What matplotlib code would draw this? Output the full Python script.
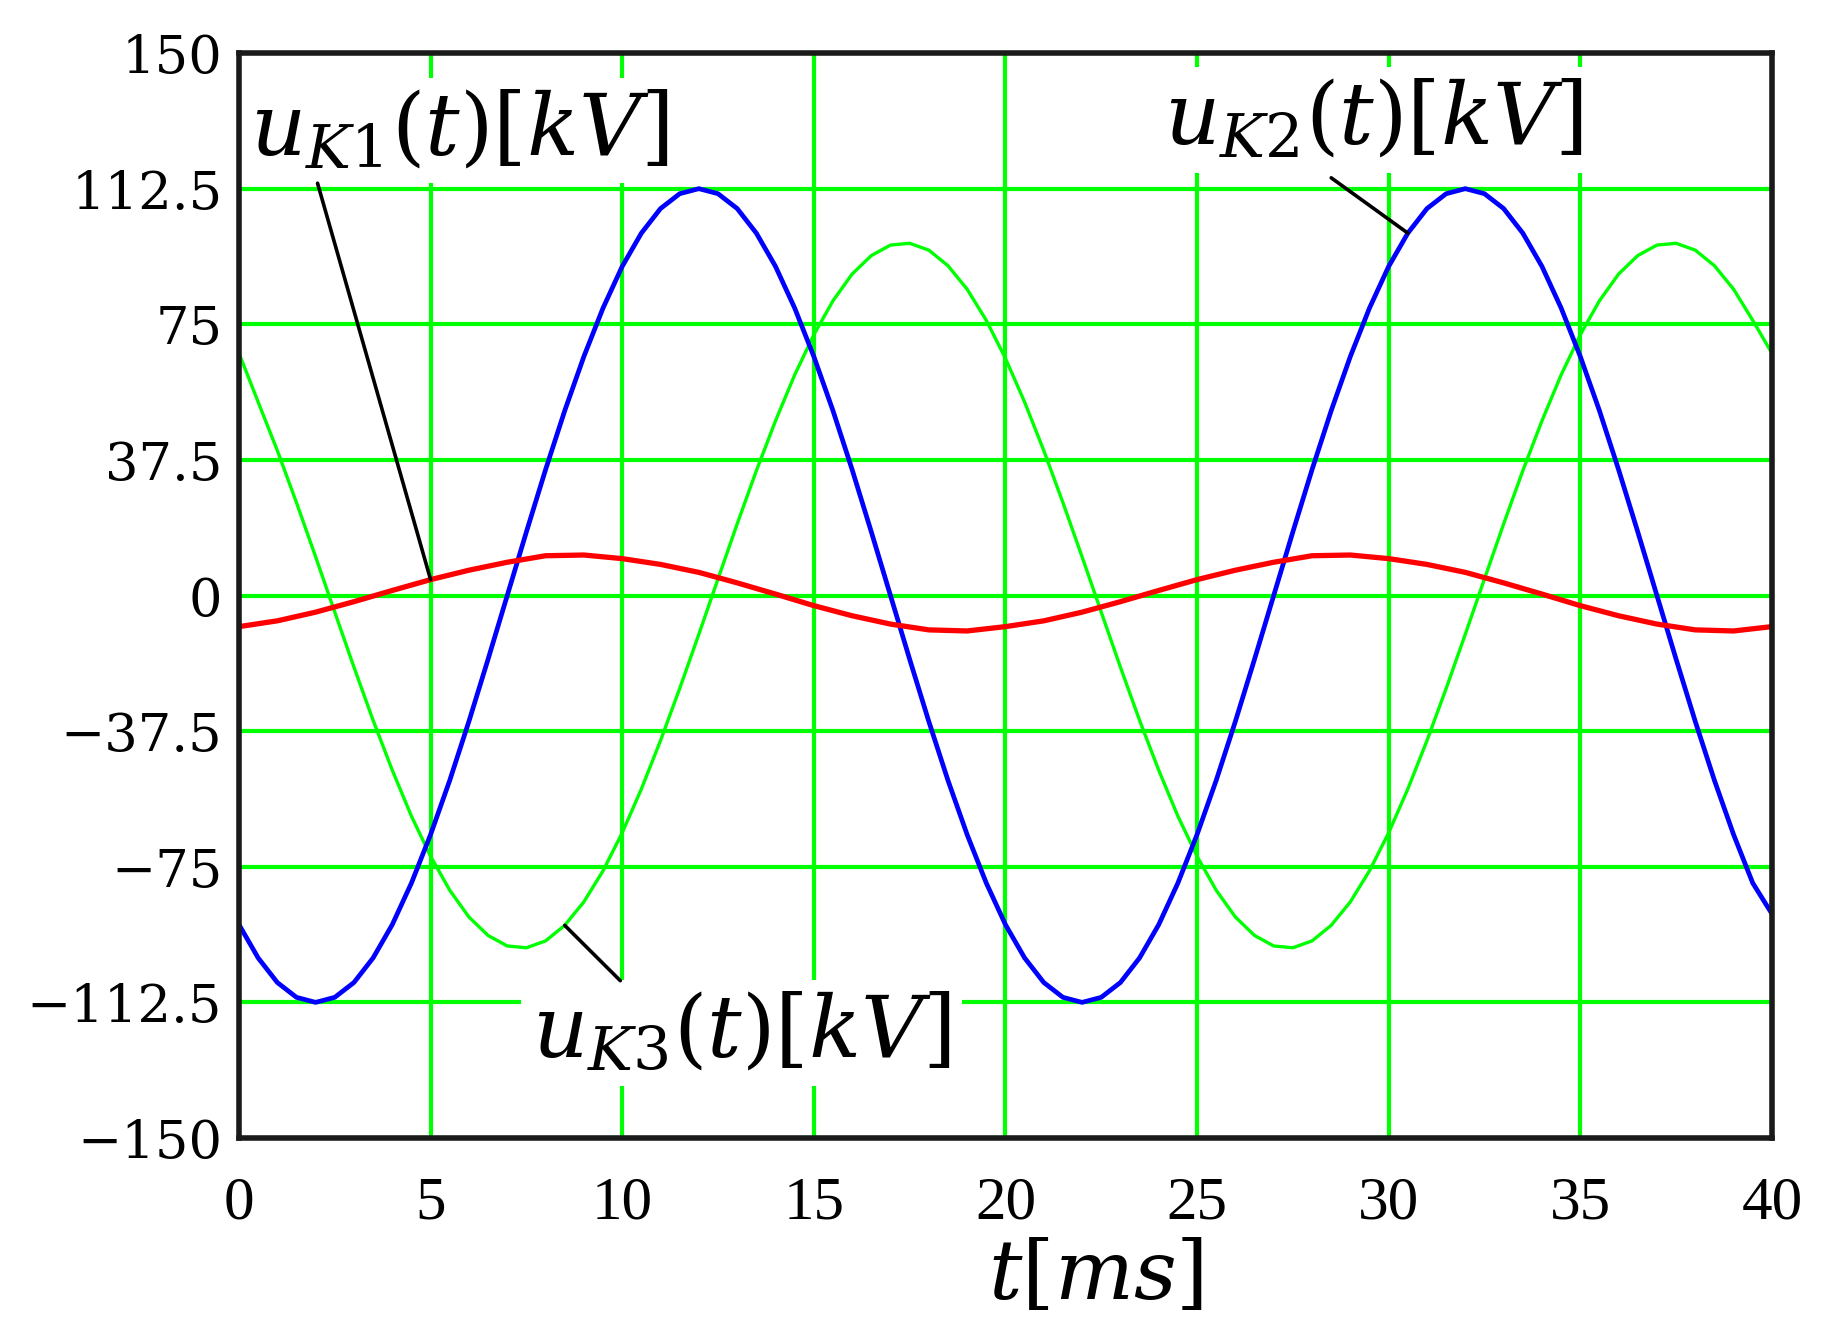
import matplotlib
matplotlib.use("Agg")

import matplotlib.pyplot as plt

plt.rcParams["mathtext.fontset"] = "dejavuserif"

# time axis, ms (0.5 ms step for uK2 / uK3, 1 ms step for uK1)
t_ms = [0.0, 0.5, 1.0, 1.5, 2.0, 2.5, 3.0, 3.5, 4.0, 4.5,
        5.0, 5.5, 6.0, 6.5, 7.0, 7.5, 8.0, 8.5, 9.0, 9.5,
        10.0, 10.5, 11.0, 11.5, 12.0, 12.5, 13.0, 13.5, 14.0, 14.5,
        15.0, 15.5, 16.0, 16.5, 17.0, 17.5, 18.0, 18.5, 19.0, 19.5,
        20.0, 20.5, 21.0, 21.5, 22.0, 22.5, 23.0, 23.5, 24.0, 24.5,
        25.0, 25.5, 26.0, 26.5, 27.0, 27.5, 28.0, 28.5, 29.0, 29.5,
        30.0, 30.5, 31.0, 31.5, 32.0, 32.5, 33.0, 33.5, 34.0, 34.5,
        35.0, 35.5, 36.0, 36.5, 37.0, 37.5, 38.0, 38.5, 39.0, 39.5,
        40.0]

t_red_ms = [0, 1, 2, 3, 4, 5, 6, 7, 8, 9, 10, 11, 12, 13, 14, 15, 16, 17, 18, 19,
            20, 21, 22, 23, 24, 25, 26, 27, 28, 29, 30, 31, 32, 33, 34, 35, 36, 37, 38, 39,
            40]

# uK1(t) [kV] - red
u_k1 = [-8.6, -7.0, -4.6, -1.7, 1.4, 4.4, 7.0, 9.2, 11.0, 11.2,
        10.2, 8.6, 6.4, 3.5, 0.4, -2.8, -5.6, -7.9, -9.5, -9.8,
        -8.6, -7.0, -4.6, -1.7, 1.4, 4.4, 7.0, 9.2, 11.0, 11.2,
        10.2, 8.6, 6.4, 3.5, 0.4, -2.8, -5.6, -7.9, -9.5, -9.8,
        -8.6]

# uK2(t) [kV] - blue
u_k2 = [-91.0, -100.2, -107.0, -111.1, -112.5, -111.1, -107.0, -100.2, -91.0, -79.5,
        -66.1, -51.1, -34.8, -17.6, 0.0, 17.6, 34.8, 51.1, 66.1, 79.5,
        91.0, 100.2, 107.0, 111.1, 112.5, 111.1, 107.0, 100.2, 91.0, 79.5,
        66.1, 51.1, 34.8, 17.6, 0.0, -17.6, -34.8, -51.1, -66.1, -79.5,
        -91.0, -100.2, -107.0, -111.1, -112.5, -111.1, -107.0, -100.2, -91.0, -79.5,
        -66.1, -51.1, -34.8, -17.6, 0.0, 17.6, 34.8, 51.1, 66.1, 79.5,
        91.0, 100.2, 107.0, 111.1, 112.5, 111.1, 107.0, 100.2, 91.0, 79.5,
        66.1, 51.1, 34.8, 17.6, 0.0, -17.6, -34.8, -51.1, -66.1, -79.5,
        -88.0]

# uK3(t) [kV] - green
u_k3 = [67.0, 53.5, 40.1, 25.7, 10.7, -4.6, -19.8, -34.5, -48.3, -61.0,
        -72.1, -81.5, -88.9, -94.0, -96.9, -97.4, -95.5, -91.2, -84.7, -76.1,
        -65.6, -53.5, -40.1, -25.7, -10.7, 4.6, 19.8, 34.5, 48.3, 61.0,
        72.1, 81.5, 88.9, 94.0, 96.9, 97.4, 95.5, 91.2, 84.7, 76.1,
        65.6, 53.5, 40.1, 25.7, 10.7, -4.6, -19.8, -34.5, -48.3, -61.0,
        -72.1, -81.5, -88.9, -94.0, -96.9, -97.4, -95.5, -91.2, -84.7, -76.1,
        -65.6, -53.5, -40.1, -25.7, -10.7, 4.6, 19.8, 34.5, 48.3, 61.0,
        72.1, 81.5, 88.9, 94.0, 96.9, 97.4, 95.5, 91.2, 84.7, 76.1,
        67.0]

x_ticks = [0, 5, 10, 15, 20, 25, 30, 35, 40]
y_ticks = [150, 112.5, 75, 37.5, 0, -37.5, -75, -112.5, -150]
y_tick_labels = ["150", "112.5", "75", "37.5", "0", "\u221237.5", "\u221275", "\u2212112.5", "\u2212150"]

fig = plt.figure(figsize=(18.44, 13.36), dpi=100)
ax = fig.add_axes([0.1296, 0.1482, 0.8313, 0.8121])

ax.plot(t_ms, u_k3, color="#00ff00", lw=2.4, zorder=3)
ax.plot(t_ms, u_k2, color="#0000ff", lw=3.4, zorder=4)
ax.plot(t_red_ms, u_k1, color="#ff0000", lw=3.8, zorder=4)

ax.set_xlim(0, 40)
ax.set_ylim(-150, 150)
ax.set_xticks(x_ticks)
ax.set_xticklabels([str(v) for v in x_ticks], fontfamily="Liberation Serif", fontsize=44)
ax.set_yticks(y_ticks)
ax.set_yticklabels(y_tick_labels, fontfamily="DejaVu Serif", fontsize=38)
ax.tick_params(axis="both", length=0)
ax.tick_params(axis="y", pad=12)
ax.tick_params(axis="x", pad=27)
ax.grid(True, color="#00ff00", lw=3.0, zorder=1)
ax.set_axisbelow(True)

for sp in ax.spines.values():
    sp.set_color("#1a1a1a")
    sp.set_linewidth(4.0)
    sp.set_zorder(6)

# labels with leader lines
box = dict(facecolor="white", edgecolor="none", pad=8)
lead = dict(arrowstyle="-", color="black", lw=2.6, shrinkA=0, shrinkB=0)
label_size = 62

ax.text(0.3, 128.5, r"$u_{K1}(t)[kV]$", ha="left", va="center", fontsize=label_size, bbox=box, zorder=5)
ax.annotate("", xy=(t_red_ms[5], u_k1[5]), xytext=(2.05, 114.0), arrowprops=lead, zorder=5)

ax.text(24.15, 131.5, r"$u_{K2}(t)[kV]$", ha="left", va="center", fontsize=label_size, bbox=box, zorder=5)
ax.annotate("", xy=(t_ms[61], u_k2[61]), xytext=(28.5, 115.5), arrowprops=lead, zorder=5)

ax.text(7.65, -121.0, r"$u_{K3}(t)[kV]$", ha="left", va="center", fontsize=label_size, bbox=box, zorder=5)
ax.annotate("", xy=(t_ms[17], u_k3[17]), xytext=(9.95, -106.5), arrowprops=lead, zorder=5)

fig.text(0.594, 0.045, r"$t[ms]$", ha="center", va="center", fontsize=60)

fig.savefig("out.png", dpi=100)
plt.close(fig)
